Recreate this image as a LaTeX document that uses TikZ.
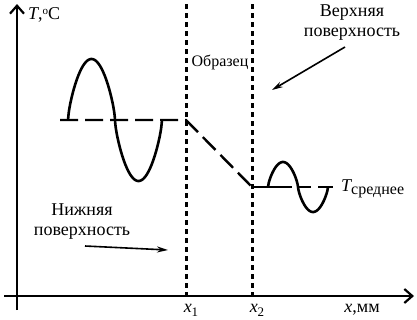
\documentclass[tikz,border=0pt]{standalone}
\usepackage{fontspec}
\setmainfont{Liberation Serif}
\usetikzlibrary{arrows.meta}
\tikzset{
  axis/.style={line width=2.4pt,-{Straight Barb[length=8pt,width=14pt,line width=2.2pt]}},
  dotline/.style={line width=3pt,dash pattern=on 4.5pt off 4.5pt},
  meanline/.style={line width=2.4pt,dash pattern=on 18pt off 7pt},
  wave/.style={line width=2.6pt},
  lbl/.style={font=\fontsize{18}{20}\selectfont,inner sep=0pt},
  pointer/.style={line width=1.6pt,-{Stealth[length=11pt,width=6pt]}}
}
\begin{document}
\begin{tikzpicture}[x=1pt,y=-1pt]
\useasboundingbox (0,0) rectangle (417,319);
% axes
\coordinate (ybot) at (17,310);
\coordinate (ytop) at (17,4);
\coordinate (xleft) at (4,296);
\coordinate (xright) at (414,296);
\draw[axis] (ybot) -- (ytop);
\draw[axis] (xleft) -- (xright);
% dotted sample boundaries
\coordinate (d1t) at (186,4);
\coordinate (d1b) at (186,296);
\coordinate (d2t) at (252,4);
\coordinate (d2b) at (252,296);
\draw[dotline] (d1t) -- (d1b);
\draw[dotline] (d2t) -- (d2b);
% mean temperature line
\coordinate (m0) at (60,120);
\coordinate (m1) at (186,120);
\coordinate (m2) at (252,187);
\coordinate (m3) at (333,187);
\draw[meanline] (m0) -- (m1) -- (m2);
\draw[meanline,dash pattern=on 40pt off 7pt on 12pt off 7pt on 30pt off 7pt] (m2) -- (m3);
% waves
\draw[wave] plot[domain=68:162,samples=120,smooth] (\x,{120-61*sign(sin((\x-68)*3.8298))*abs(sin((\x-68)*3.8298))^0.7});
\draw[wave] plot[domain=268:328,samples=80,smooth] (\x,{187-25*sign(sin((\x-268)*6))*abs(sin((\x-268)*6))^0.7});
% labels
\node[lbl,anchor=west] (tlab) at (28,15) {\itshape T\upshape,\raisebox{0.6ex}{\fontsize{11}{11}\selectfont o}C};
\node[lbl,font=\fontsize{16}{18}\selectfont] (obr) at (220,62) {Образец};
\node[lbl,align=center] (top) at (352,23) {Верхняя\\поверхность};
\node[lbl,align=center] (bot) at (82,222) {Нижняя\\поверхность};
\node[lbl,anchor=west] (tmean) at (341,189) {\itshape T\upshape\raisebox{-0.4ex}{\fontsize{16}{16}\selectfont среднее}};
\node[lbl] (x1) at (191,310) {\itshape x\upshape\raisebox{-0.5ex}{\fontsize{13}{13}\selectfont 1}};
\node[lbl] (x2) at (257,310) {\itshape x\upshape\raisebox{-0.5ex}{\fontsize{13}{13}\selectfont 2}};
\node[lbl] (xlab) at (362,310) {\itshape x\upshape,мм};
% pointers
\coordinate (topend) at (272,90);
\coordinate (botend) at (168,250);
\draw[pointer] (345,47) -- (topend);
\draw[pointer] (85,246) -- (botend);
\end{tikzpicture}
\end{document}
